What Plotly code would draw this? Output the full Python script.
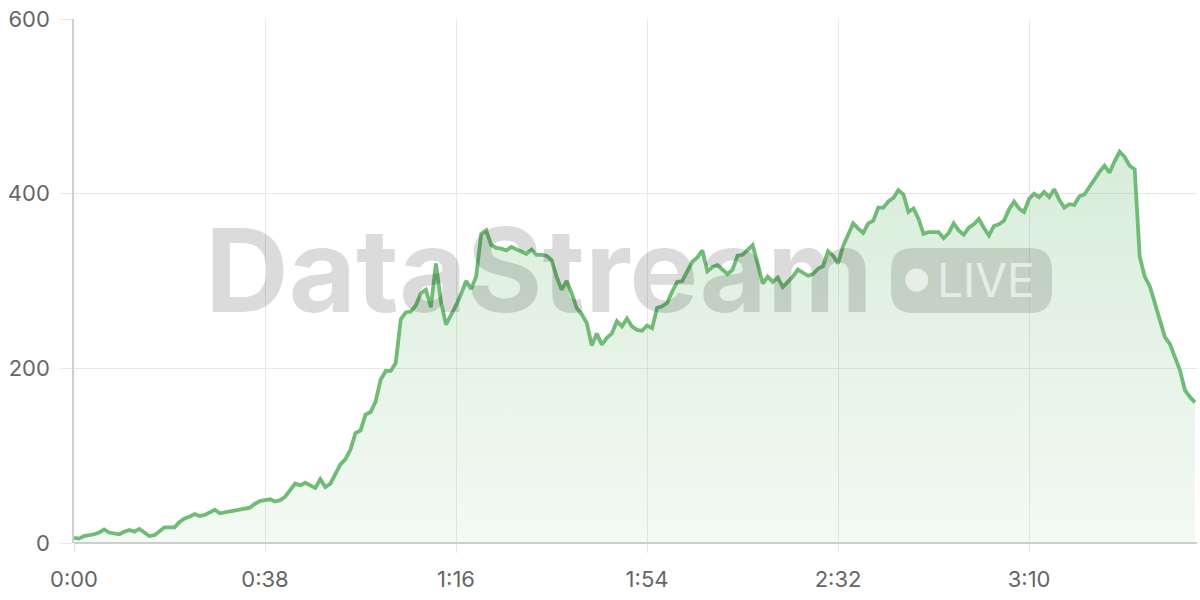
import plotly.graph_objects as go

# seconds elapsed
seconds = list(range(0, 224))
# viewer count per second
viewers = [
    6, 5, 8, 8.5, 10, 12, 15.5, 12, 11, 10,
    13, 15, 13, 16, 12, 8, 9, 14, 18, 18,
    18, 24, 28, 30, 33, 31, 32, 35, 38, 34,
    35, 35.5, 37, 38, 39, 40.5, 45, 48, 49, 50,
    47.5, 49, 53, 60, 68, 66, 69, 66, 63, 73,
    64, 68, 78, 90, 96, 107, 126, 129, 147, 150,
    162, 187, 197, 197, 206, 256, 264, 265, 272, 286,
    290, 270, 320, 276, 250, 260, 272, 285, 300, 291,
    305, 354, 358, 341, 338, 337, 335, 339, 336, 333,
    331, 336, 330, 330, 329, 324, 305, 290, 300, 286,
    269, 262, 252, 226, 240, 227, 235, 240, 254, 248,
    257, 248, 244, 243, 249, 246, 269, 271, 275, 288,
    299, 300, 311, 322, 327, 335, 311, 316, 318, 313,
    308, 313, 329, 330, 336, 341, 320, 297, 305, 299,
    304, 293, 299, 305, 313, 309, 306, 308, 314, 317,
    334, 329, 320, 340, 353, 366, 360, 355, 366, 369,
    384, 384, 391, 395, 404, 399, 379, 383, 371, 354,
    356, 356, 356, 349, 355, 366, 358, 353, 361, 365,
    371, 361, 352, 363, 365, 369, 382, 391, 383, 379,
    394, 400, 396, 402, 396, 405, 393, 384, 388, 387,
    397, 399, 408, 415, 425, 432, 424, 437, 448, 442,
    432, 428, 328, 305, 294, 275, 255, 236, 228, 212,
    198, 175, 167, 161,
]

x_tick_vals = [0, 38, 76, 114, 152, 190]
x_tick_text = ["0:00", "0:38", "1:16", "1:54", "2:32", "3:10"]
y_tick_vals = [0, 200, 400, 600]

LINE = "#70bb76"
GRID = "#e8e8e8"
AXIS = "#cfcfcf"
FONT = "Inter, 'Noto Sans', sans-serif"

fig = go.Figure()
fig.add_trace(go.Scatter(
    x=seconds, y=viewers, mode="lines",
    line=dict(color=LINE, width=3.8),
    fill="tozeroy",
    fillgradient=dict(
        type="vertical",
        start=0, stop=450,
        colorscale=[[0, "rgba(109,186,115,0.08)"], [1, "rgba(109,186,115,0.27)"]],
    ),
    hoverinfo="skip",
))

# plot area geometry in px (for decorative overlays)
L, R, T, B = 74, 3, 19, 57
W, H = 1200 - L - R, 600 - T - B


def px(xp):
    return (xp - L) / W


def py(yp):
    return (600 - B - yp) / H


# watermark text
fig.add_annotation(
    text="<b>DataStream</b>", x=px(539), y=py(270), xref="paper", yref="paper",
    showarrow=False, xanchor="center", yanchor="middle",
    font=dict(family=FONT, size=116, color="rgba(0,0,0,0.14)"),
)

# LIVE badge (rounded rectangle)
bx0, bx1, by0, by1, r = 891, 1052, 248, 313, 22
rx, ry = r / W, r / H
X0, X1, Y0, Y1 = px(bx0), px(bx1), py(by1), py(by0)
path = (
    f"M {X0+rx} {Y0} L {X1-rx} {Y0} Q {X1} {Y0} {X1} {Y0+ry} "
    f"L {X1} {Y1-ry} Q {X1} {Y1} {X1-rx} {Y1} "
    f"L {X0+rx} {Y1} Q {X0} {Y1} {X0} {Y1-ry} "
    f"L {X0} {Y0+ry} Q {X0} {Y0} {X0+rx} {Y0} Z"
)
fig.add_shape(type="path", path=path, xref="paper", yref="paper",
              fillcolor="rgba(0,0,0,0.13)", line=dict(width=0), layer="above")
cr = 11.5
fig.add_shape(type="circle", xref="paper", yref="paper",
              x0=px(916.7 - cr), x1=px(916.7 + cr), y0=py(280 + cr), y1=py(280 - cr),
              fillcolor="rgba(255,255,255,0.6)", line=dict(width=0), layer="above")
fig.add_annotation(
    text="LIVE", x=px(985.5), y=py(280), xref="paper", yref="paper",
    showarrow=False, xanchor="center", yanchor="middle",
    font=dict(family=FONT, size=46, color="rgba(255,255,255,0.6)"),
)

fig.update_layout(
    width=1200, height=600,
    margin=dict(l=L, r=R, t=T, b=B, autoexpand=False),
    paper_bgcolor="white", plot_bgcolor="white",
    showlegend=False,
    font=dict(family=FONT, size=22, color="#666666"),
)
fig.update_xaxes(
    range=[0, 223.4], tickmode="array", tickvals=x_tick_vals, ticktext=x_tick_text,
    showgrid=True, gridcolor=GRID, gridwidth=1, automargin=False,
    ticks="outside", ticklen=9, tickcolor=GRID, ticklabelstandoff=8,
    showline=False, zeroline=False,
    tickfont=dict(family=FONT, size=22, color="#666666"),
)
fig.update_yaxes(
    range=[0, 600], tickmode="array", tickvals=y_tick_vals,
    showgrid=True, gridcolor=GRID, gridwidth=1, automargin=False,
    ticks="outside", ticklen=12, tickcolor=GRID, ticklabelstandoff=6,
    showline=True, linecolor=AXIS, linewidth=1.5,
    zeroline=True, zerolinecolor=AXIS, zerolinewidth=1.5,
    tickfont=dict(family=FONT, size=22, color="#666666"),
)

fig.write_html(
    "out.html",
    config={"displayModeBar": False},
    post_script="document.body.style.margin='0';document.body.style.overflow='hidden';",
)
